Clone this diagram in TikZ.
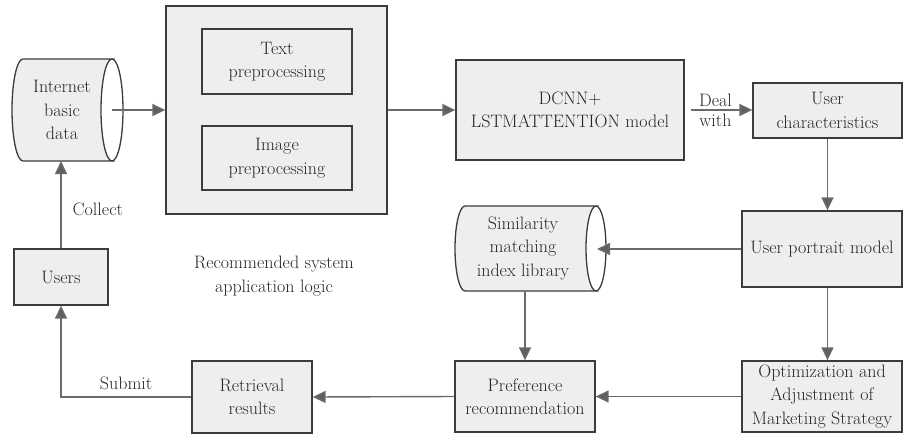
\documentclass[tikz,border=0pt]{standalone}
\usepackage{fontspec}
\usetikzlibrary{arrows.meta}
\definecolor{boxfill}{HTML}{EDEEF0}
\definecolor{boxline}{HTML}{3C3C3C}
\definecolor{arrline}{HTML}{6A6A6A}
\begin{document}
\begin{tikzpicture}[x=1pt,y=-1pt,
  every node/.style={font=\rmfamily\fontsize{18}{23.5}\selectfont, align=center, text=black!85},
  blk/.style={draw=boxline, fill=boxfill, line width=1.3pt, inner sep=0pt, anchor=center},
  conn/.style={draw=arrline, line width=1.4pt, -{Triangle[length=13pt,width=12pt,fill=arrline!90!black]}},
  cyl/.style={draw=boxline, fill=boxfill, line width=1.3pt},
  lbl/.style={inner sep=3pt}
]
\useasboundingbox (0,0) rectangle (903,434);

% big box with inner boxes
\node[blk, minimum width=221pt, minimum height=208pt] (big) at (276.5,110) {};
\node[blk, minimum width=150pt, minimum height=65pt] (txt) at (277,61.5) {Text\\preprocessing};
\node[blk, minimum width=150pt, minimum height=64pt] (img) at (277,158) {Image\\preprocessing};

% Internet basic data cylinder
\path[cyl] (23,59) -- (112,59)
  .. controls (105.9,59) and (101,81.8) .. (101,110)
  .. controls (101,138.2) and (105.9,161) .. (112,161)
  -- (23,161)
  .. controls (16.9,161) and (12,138.2) .. (12,110)
  .. controls (12,81.8) and (16.9,59) .. (23,59) -- cycle;
\draw[boxline, line width=1.3pt] (112,59)
  .. controls (118.1,59) and (123,81.8) .. (123,110)
  .. controls (123,138.2) and (118.1,161) .. (112,161);
\node (inet) at (62,110) {Internet\\basic\\data};
\coordinate (inetc) at (112,110);
\coordinate (inetb) at (61,161);

% Similarity cylinder
\path[cyl] (465,206) -- (596,206)
  .. controls (590.5,206) and (586,225) .. (586,248.5)
  .. controls (586,272) and (590.5,291) .. (596,291)
  -- (465,291)
  .. controls (459.5,291) and (455,272) .. (455,248.5)
  .. controls (455,225) and (459.5,206) .. (465,206) -- cycle;
\draw[boxline, line width=1.3pt] (596,206)
  .. controls (601.5,206) and (606,225) .. (606,248.5)
  .. controls (606,272) and (601.5,291) .. (596,291);
\node (sim) at (523,248.5) {Similarity\\matching\\index library};
\coordinate (simc) at (597,249);
\coordinate (simb) at (525,291);

% other blocks
\node[blk, minimum width=228pt, minimum height=100pt] (dcnn) at (570,110) {DCNN+\\LSTMATTENTION model};
\node[blk, minimum width=149pt, minimum height=55pt] (uc) at (827.5,110.5) {User\\characteristics};
\node[blk, minimum width=160pt, minimum height=76pt] (up) at (822,249) {User portrait model};
\node[blk, minimum width=160pt, minimum height=71pt] (opt) at (822,396.5) {Optimization and\\Adjustment of\\Marketing Strategy};
\node[blk, minimum width=140pt, minimum height=71pt] (pref) at (525,396.5) {Preference\\recommendation};
\node[blk, minimum width=120pt, minimum height=72pt] (ret) at (252,397) {Retrieval\\results};
\node[blk, minimum width=94pt, minimum height=56pt] (users) at (61,277) {Users};

\node (logic) at (274,276) {Recommended system\\application logic};

% connectors
\draw[conn] (inetc) -- (big.west |- inetc);
\draw[conn] (big.east) -- (dcnn.west);
\draw[conn, shorten <=6pt] (dcnn.east) -- (uc.west |- dcnn.east)
  node[midway, above, lbl, xshift=-3pt] (deal) {Deal}
  node[midway, below, lbl, xshift=-3pt] (with) {with};
\draw[conn] (uc.south) -- (uc.south |- up.north);
\draw[conn] (up.west |- simc) -- (simc);
\draw[conn] (uc.south |- up.south) -- (uc.south |- opt.north);
\draw[conn] (simb) -- (simb |- pref.north);
\draw[conn] (opt.west) -- (pref.east);
\draw[conn] (pref.west) -- (ret.east);
\draw[conn] (ret.west) -| (users.south)
  node[pos=0.25, above, lbl, yshift=4pt] (submit) {Submit};
\draw[conn] (users.north) -- (inetb)
  node[pos=0.45, right, lbl, xshift=8pt] (collect) {Collect};
\end{tikzpicture}
\end{document}
